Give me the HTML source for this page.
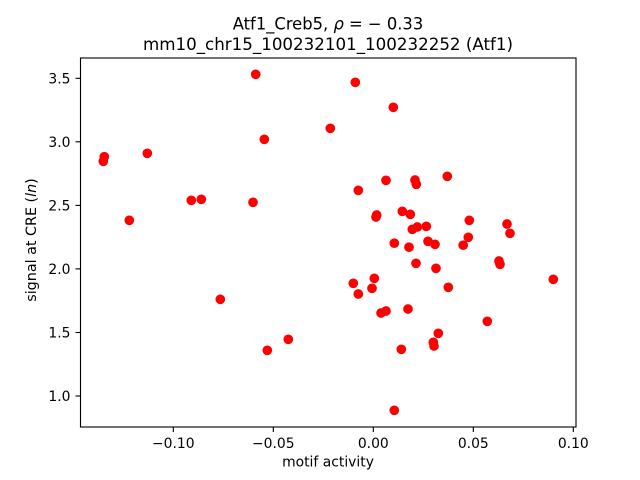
<!DOCTYPE html>
<html><head><meta charset="utf-8"><style>
html,body{margin:0;padding:0;background:#fff;}
svg{display:block;}
text{font-family:"DejaVu Sans","Liberation Sans",sans-serif;fill:#000;}
</style></head><body>
<svg width="640" height="480" viewBox="0 0 640 480" xmlns="http://www.w3.org/2000/svg">
<rect x="0" y="0" width="640" height="480" fill="#fff"/>
<g fill="#ff0000">
<circle cx="255.7" cy="74.3" r="4.85"/>
<circle cx="264.3" cy="139.3" r="4.85"/>
<circle cx="104.3" cy="156.7" r="4.85"/>
<circle cx="103.3" cy="161.3" r="4.85"/>
<circle cx="147.3" cy="153.3" r="4.85"/>
<circle cx="191.3" cy="200.3" r="4.85"/>
<circle cx="201.3" cy="199.3" r="4.85"/>
<circle cx="253" cy="202.3" r="4.85"/>
<circle cx="129.3" cy="220.3" r="4.85"/>
<circle cx="355.3" cy="82.3" r="4.85"/>
<circle cx="393.3" cy="107.3" r="4.85"/>
<circle cx="330.3" cy="128.3" r="4.85"/>
<circle cx="386" cy="180.3" r="4.85"/>
<circle cx="415" cy="180" r="4.85"/>
<circle cx="416.3" cy="184.3" r="4.85"/>
<circle cx="447.3" cy="176.3" r="4.85"/>
<circle cx="358.3" cy="190.3" r="4.85"/>
<circle cx="376.7" cy="215" r="4.85"/>
<circle cx="376" cy="217" r="4.85"/>
<circle cx="402.3" cy="211.3" r="4.85"/>
<circle cx="410.3" cy="214.3" r="4.85"/>
<circle cx="469.3" cy="220.3" r="4.85"/>
<circle cx="507" cy="224" r="4.85"/>
<circle cx="510" cy="233.3" r="4.85"/>
<circle cx="412.3" cy="229.3" r="4.85"/>
<circle cx="417.3" cy="227" r="4.85"/>
<circle cx="426.3" cy="226.3" r="4.85"/>
<circle cx="394.3" cy="243.2" r="4.85"/>
<circle cx="409" cy="247.2" r="4.85"/>
<circle cx="428" cy="241.3" r="4.85"/>
<circle cx="435" cy="244.3" r="4.85"/>
<circle cx="463.2" cy="245.2" r="4.85"/>
<circle cx="468.3" cy="237.3" r="4.85"/>
<circle cx="416" cy="263.3" r="4.85"/>
<circle cx="436" cy="268.3" r="4.85"/>
<circle cx="499" cy="261" r="4.85"/>
<circle cx="500" cy="264.3" r="4.85"/>
<circle cx="553.3" cy="279.3" r="4.85"/>
<circle cx="353.3" cy="283.3" r="4.85"/>
<circle cx="374.3" cy="278.3" r="4.85"/>
<circle cx="372" cy="288.3" r="4.85"/>
<circle cx="358.3" cy="294" r="4.85"/>
<circle cx="448.3" cy="287.3" r="4.85"/>
<circle cx="381" cy="313" r="4.85"/>
<circle cx="386" cy="311" r="4.85"/>
<circle cx="408" cy="309" r="4.85"/>
<circle cx="487.3" cy="321.3" r="4.85"/>
<circle cx="438.3" cy="333.3" r="4.85"/>
<circle cx="433.3" cy="342.3" r="4.85"/>
<circle cx="434" cy="346" r="4.85"/>
<circle cx="401.3" cy="349.3" r="4.85"/>
<circle cx="394.3" cy="410.3" r="4.85"/>
<circle cx="220.3" cy="299.3" r="4.85"/>
<circle cx="267.3" cy="350.3" r="4.85"/>
<circle cx="288.3" cy="339.3" r="4.85"/>
</g>
<rect x="80.5" y="58" width="495.5" height="369" fill="none" stroke="#000" stroke-width="1.11"/>
<g stroke="#000" stroke-width="1.11">
<line x1="173.3" y1="427" x2="173.3" y2="432"/>
<line x1="273.3" y1="427" x2="273.3" y2="432"/>
<line x1="373.3" y1="427" x2="373.3" y2="432"/>
<line x1="473.3" y1="427" x2="473.3" y2="432"/>
<line x1="573.3" y1="427" x2="573.3" y2="432"/>
<line x1="75.5" y1="78.3" x2="80.5" y2="78.3"/>
<line x1="75.5" y1="141.8" x2="80.5" y2="141.8"/>
<line x1="75.5" y1="205.4" x2="80.5" y2="205.4"/>
<line x1="75.5" y1="268.9" x2="80.5" y2="268.9"/>
<line x1="75.5" y1="332.5" x2="80.5" y2="332.5"/>
<line x1="75.5" y1="396" x2="80.5" y2="396"/>
</g>
<g font-size="13.9" text-anchor="middle">
<text x="173.3" y="448">−0.10</text>
<text x="273.3" y="448">−0.05</text>
<text x="373.3" y="448">0.00</text>
<text x="473.3" y="448">0.05</text>
<text x="573.3" y="448">0.10</text>
</g>
<g font-size="13.9" text-anchor="end">
<text x="70.5" y="83.3">3.5</text>
<text x="70.5" y="146.8">3.0</text>
<text x="70.5" y="210.4">2.5</text>
<text x="70.5" y="273.9">2.0</text>
<text x="70.5" y="337.5">1.5</text>
<text x="70.5" y="401">1.0</text>
</g>
<text x="328" y="466.5" font-size="13.9" text-anchor="middle">motif activity</text>
<text transform="translate(36,240) rotate(-90)" font-size="13.9" text-anchor="middle" textLength="123.5" lengthAdjust="spacingAndGlyphs">signal at CRE (<tspan font-style="italic">ln</tspan>)</text>
<text x="328" y="29.5" font-size="16.67" text-anchor="middle" textLength="190.5" lengthAdjust="spacingAndGlyphs">Atf1_Creb5, <tspan font-style="italic">ρ</tspan> = − 0.33</text>
<text x="328" y="50" font-size="16.67" text-anchor="middle" textLength="370" lengthAdjust="spacingAndGlyphs">mm10_chr15_100232101_100232252 (Atf1)</text>
</svg>
</body></html>
